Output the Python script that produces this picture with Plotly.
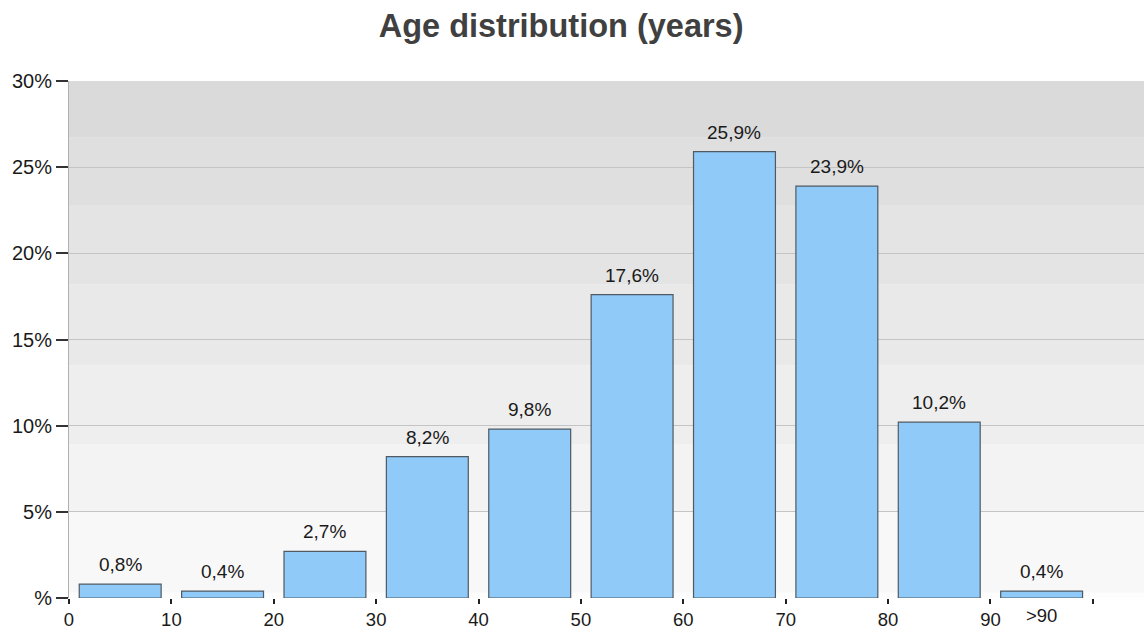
import plotly.graph_objects as go

# ---- data ----
bin_starts = [0, 10, 20, 30, 40, 50, 60, 70, 80, 90]
shares = [0.8, 0.4, 2.7, 8.2, 9.8, 17.6, 25.9, 23.9, 10.2, 0.4]
x_tick_vals = [0, 10, 20, 30, 40, 50, 60, 70, 80, 90, 100]
x_tick_text = ["0", "10", "20", "30", "40", "50", "60", "70", "80", "90", ""]
last_bin_label = ">90"
y_tick_vals = [0, 5, 10, 15, 20, 25, 30]
y_tick_text = ["%", "5%", "10%", "15%", "20%", "25%", "30%"]
band_edges = [0, 0.3, 5.0, 8.9, 13.5, 18.2, 22.8, 26.7, 30]
band_colors = ["#fdfdfd", "#f8f8f8", "#f3f3f3", "#eeeeee", "#e9e9e9", "#e4e4e4", "#dfdfdf", "#dadada"]

centers = [s + 5 for s in bin_starts]
labels = [f"{v:.1f}%".replace(".", ",") for v in shares]

FONT = "Liberation Sans, Arial, sans-serif"

fig = go.Figure()
fig.add_trace(go.Bar(
    x=centers, y=shares, width=8,
    marker=dict(color="#90CAF9", line=dict(color="#4f5a63", width=1.2)),
    hoverinfo="skip",
))

shapes = []
for i, c in enumerate(band_colors):
    shapes.append(dict(type="rect", xref="paper", yref="y", x0=0, x1=1,
                       y0=band_edges[i], y1=band_edges[i + 1],
                       fillcolor=c, line=dict(width=0), layer="below"))

annotations = []
for xc, v, t in zip(centers, shares, labels):
    annotations.append(dict(x=xc, y=v, xref="x", yref="y", text=t, showarrow=False,
                            yanchor="bottom", yshift=7,
                            font=dict(family=FONT, size=19, color="#1a1a1a")))
annotations.append(dict(x=centers[-1], y=0, xref="x", yref="y", text=last_bin_label,
                        showarrow=False, yanchor="top", yshift=-5,
                        font=dict(family=FONT, size=18.5, color="#1a1a1a")))

fig.update_layout(
    width=1144, height=632,
    margin=dict(l=69, r=0, t=81, b=34),
    paper_bgcolor="white", plot_bgcolor="rgba(0,0,0,0)",
    showlegend=False,
    shapes=shapes, annotations=annotations,
    title=dict(text="<b>Age distribution (years)</b>", x=0.4905, xanchor="center",
               y=0.96, yanchor="middle",
               font=dict(family=FONT, size=32.5, color="#404040")),
    xaxis=dict(range=[0, 105], tickvals=x_tick_vals, ticktext=x_tick_text,
               ticks="outside", ticklen=5, tickcolor="#222", tickwidth=1.5,
               showgrid=False, zeroline=False, showline=False, automargin=False,
               tickfont=dict(family=FONT, size=18.5, color="#1a1a1a")),
    yaxis=dict(range=[0, 30], tickvals=y_tick_vals, ticktext=y_tick_text,
               ticks="outside", ticklen=12, tickcolor="#333", tickwidth=1.5,
               showgrid=True, gridcolor="#c4c4c4", gridwidth=1, automargin=False,
               zeroline=False, showline=True, linecolor="#b0b0b0", linewidth=1,
               tickfont=dict(family=FONT, size=20, color="#1a1a1a")),
)

fig.write_html("out.html", config={"displayModeBar": False},
               post_script="document.body.style.margin='0';document.body.style.overflow='hidden';")
